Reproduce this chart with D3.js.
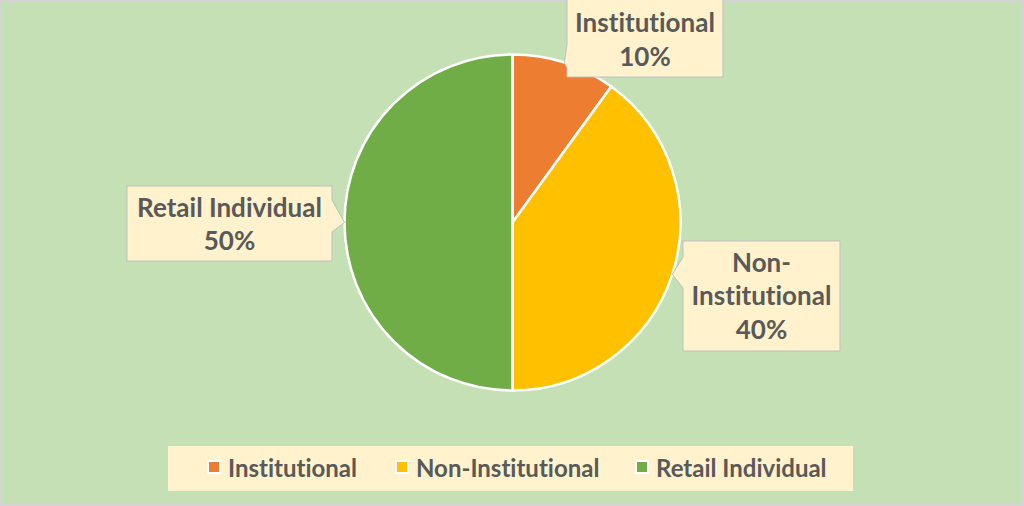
<!DOCTYPE html>
<html>
<head>
<meta charset="utf-8">
<script src="https://cdn.jsdelivr.net/npm/d3@7"></script>
<style>
  html, body { margin: 0; padding: 0; background: #fff; }
  svg { display: block; font-family: Lato, "Open Sans", sans-serif; font-variant-ligatures: none; }
</style>
</head>
<body>
<svg id="chart" width="1024" height="506"></svg>
<script>
// Data
const categories = ["Institutional", "Non-Institutional", "Retail Individual"];
const shares = [10, 40, 50];
const colors = ["#ED7D31", "#FFC000", "#70AD47"];
const labelLines = [["Institutional", "10%"], ["Non-", "Institutional", "40%"], ["Retail Individual", "50%"]];

const width = 1024, height = 506;
const svg = d3.select("#chart");
const cx = 512.5, cy = 222.5, r = 168;
const textColor = "#595959";

// background
svg.append("rect")
  .attr("x", 1).attr("y", 1)
  .attr("width", width - 2).attr("height", height - 2)
  .attr("fill", "#C5E0B4")
  .attr("stroke", "#D4D4D4")
  .attr("stroke-width", 2);

// pie
const pie = d3.pie().sort(null).value(d => d);
const arcs = pie(shares);
const arc = d3.arc().innerRadius(0).outerRadius(r);

const g = svg.append("g").attr("transform", `translate(${cx},${cy})`);
g.selectAll("path")
  .data(arcs)
  .enter()
  .append("path")
  .attr("d", arc)
  .attr("fill", (d, i) => colors[i])
  .attr("stroke", "#fff")
  .attr("stroke-width", 2.5)
  .attr("stroke-linejoin", "round");

// callouts (boxes placed by hand, like the original)
const boxes = [
  { x: 567, y: -4, w: 156, h: 81, base: [44, 68], side: "left" },
  { x: 683, y: 241, w: 157, h: 110, base: [257, 288], side: "left" },
  { x: 127, y: 186, w: 205, h: 75, base: [200, 232], side: "right" }
];
const baselines = [[32, 66], [272, 305, 339], [217, 250]];

arcs.forEach((a, i) => {
  const b = boxes[i];
  const mid = (a.startAngle + a.endAngle) / 2;
  const tx = cx + Math.sin(mid) * r, ty = cy - Math.cos(mid) * r;
  let pts;
  if (b.side === "left") {
    pts = [[b.x, b.y], [b.x + b.w, b.y], [b.x + b.w, b.y + b.h], [b.x, b.y + b.h],
           [b.x, b.base[1]], [tx, ty], [b.x, b.base[0]]];
  } else {
    pts = [[b.x, b.y], [b.x + b.w, b.y], [b.x + b.w, b.base[0]], [tx, ty],
           [b.x + b.w, b.base[1]], [b.x + b.w, b.y + b.h], [b.x, b.y + b.h]];
  }
  svg.append("path")
    .attr("d", d3.line()(pts) + "Z")
    .attr("fill", "#FFF2CC")
    .attr("stroke", "#BFBFBF")
    .attr("stroke-width", 1);

  labelLines[i].forEach((t, j) => {
    svg.append("text")
      .attr("x", b.x + b.w / 2)
      .attr("y", baselines[i][j])
      .attr("text-anchor", "middle")
      .attr("fill", textColor)
      .attr("font-size", 26)
      .attr("font-weight", 700)
      .text(t);
  });
});

// legend
const legend = svg.append("g");
legend.append("rect")
  .attr("x", 168).attr("y", 446)
  .attr("width", 685).attr("height", 45)
  .attr("fill", "#FFF2CC");

const legendX = [208, 396, 636];
categories.forEach((c, i) => {
  legend.append("rect")
    .attr("x", legendX[i]).attr("y", 461)
    .attr("width", 12).attr("height", 12)
    .attr("fill", colors[i])
    .attr("stroke", "#fff")
    .attr("stroke-width", 2);
  legend.append("text")
    .attr("x", legendX[i] + 20)
    .attr("y", 477)
    .attr("fill", textColor)
    .attr("font-size", 24)
    .attr("font-weight", 700)
    .text(c);
});
</script>
</body>
</html>
